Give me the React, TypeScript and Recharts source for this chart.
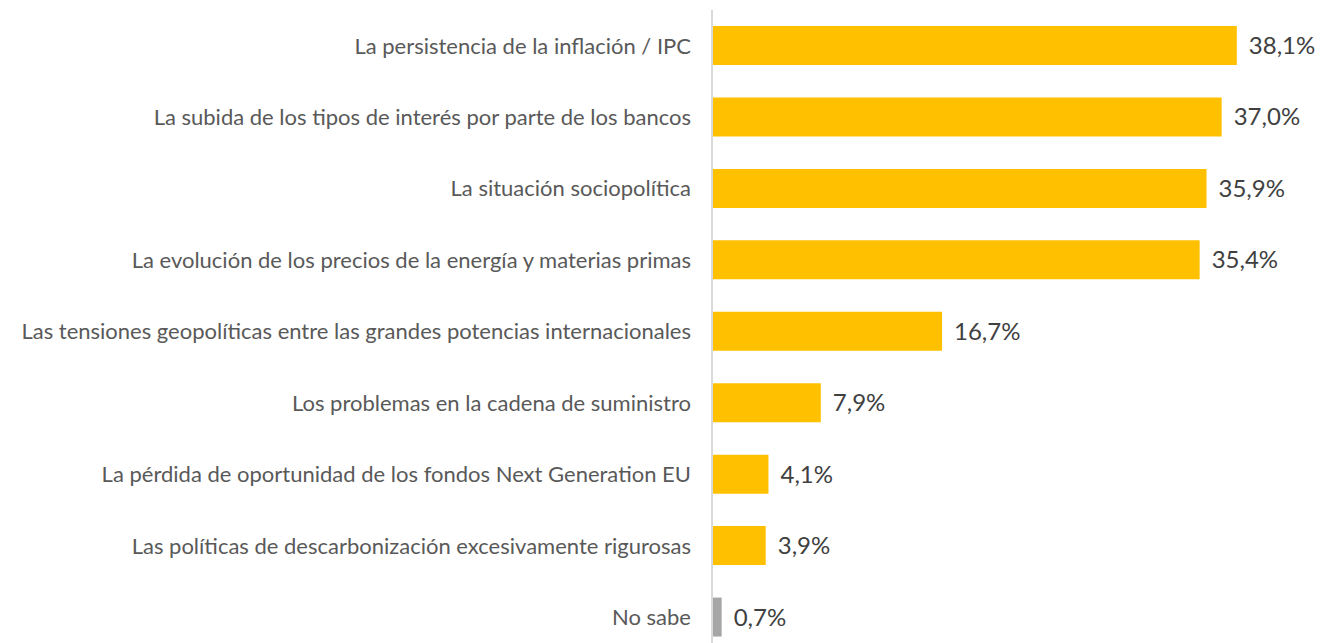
import { BarChart, Bar, XAxis, YAxis, Cell, LabelList } from "recharts";

const categories = [
  "La persistencia de la inflación / IPC",
  "La subida de los tipos de interés por parte de los bancos",
  "La situación sociopolítica",
  "La evolución de los precios de la energía y materias primas",
  "Las tensiones geopolíticas entre las grandes potencias internacionales",
  "Los problemas en la cadena de suministro",
  "La pérdida de oportunidad de los fondos Next Generation EU",
  "Las políticas de descarbonización excesivamente rigurosas",
  "No sabe",
];
const values = [38.1, 37.0, 35.9, 35.4, 16.7, 7.9, 4.1, 3.9, 0.7];
const barColors = ["#FFC000", "#FFC000", "#FFC000", "#FFC000", "#FFC000", "#FFC000", "#FFC000", "#FFC000", "#A6A6A6"];

const FONT = "Lato, 'Open Sans', sans-serif";

const rows = categories.map((category, i) => ({ category, value: values[i] }));

const fmt = (v: unknown) => `${Number(v).toFixed(1).replace(".", ",")}%`;

export default function App() {
  return (
    <div style={{ position: "fixed", top: 0, left: 0, width: 1322, height: 643, overflow: "hidden", background: "#fff" }}>
      <BarChart
        width={1322}
        height={653}
        data={rows}
        layout="vertical"
        margin={{ top: 10, right: 59, left: 0, bottom: 0 }}
        barCategoryGap={0}
      >
        <XAxis type="number" domain={[0, 40]} hide />
        <YAxis
          type="category"
          dataKey="category"
          width={712}
          tickLine={false}
          tickSize={0}
          tickMargin={21}
          axisLine={{ stroke: "#D9D9D9", strokeWidth: 2 }}
          tick={{ fill: "#595959", fontSize: 22, fontFamily: FONT }}
          interval={0}
        />
        <Bar dataKey="value" barSize={39} isAnimationActive={false}>
          {rows.map((r, i) => (
            <Cell key={r.category} fill={barColors[i]} />
          ))}
          <LabelList
            dataKey="value"
            position="right"
            offset={12}
            formatter={fmt}
            fill="#404040"
            fontSize={24}
            fontFamily={FONT}
          />
        </Bar>
      </BarChart>
    </div>
  );
}
